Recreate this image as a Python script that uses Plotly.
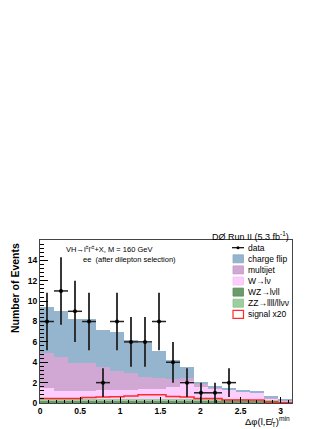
import math
import plotly.graph_objects as go

# 18 bins over [0, pi]
n_bins = 18
bin_w = math.pi / n_bins
edges = [i * bin_w for i in range(n_bins + 1)]
centers = [(i + 0.5) * bin_w for i in range(n_bins)]

# background components (events per bin), stacked bottom to top
wz = [0.25, 0.25, 0.25, 0.26, 0.26, 0.27, 0.27, 0.28, 0.28, 0.27, 0.27, 0.26, 0.25, 0.24, 0.23, 0.22, 0.20, 0.10]
zz = [0.15, 0.15, 0.15, 0.15, 0.15, 0.15, 0.15, 0.15, 0.15, 0.15, 0.15, 0.14, 0.13, 0.12, 0.12, 0.11, 0.10, 0.05]
w_lnu = [1.05, 0.80, 0.80, 0.79, 0.84, 0.88, 0.88, 0.92, 0.97, 1.18, 1.78, 1.20, 1.02, 0.94, 0.75, 0.67, 0.15, 0.05]
multijet = [3.45, 3.30, 2.70, 2.70, 2.25, 1.80, 1.60, 1.25, 1.05, 0.75, 0.30, 0.25, 0.10, 0.05, 0.05, 0.05, 0.05, 0.05]
charge_flip = [4.50, 4.50, 4.30, 4.30, 3.70, 3.90, 3.30, 3.25, 2.65, 1.85, 1.00, 0.25, 0.10, 0.05, 0.05, 0.05, 0.10, 0.05]
signal_x20 = [0.45, 0.45, 0.45, 0.55, 0.60, 0.62, 0.68, 0.80, 0.80, 0.65, 0.60, 0.45, 0.45, 0.30, 0.30, 0.30, 0.10, 0.05]
data = [8, 11, 9, 8, 2, 8, 6, 6, 8, 4, 2, 1, 1, 2, 0, 0, 0, 0]

x_ticks = [0, 0.5, 1, 1.5, 2, 2.5, 3]
x_labels = ["0", "0.5", "1", "1.5", "2", "2.5", "3"]
y_ticks = [0, 2, 4, 6, 8, 10, 12, 14]

col_cf = "#95b5ce"
col_mj = "#d1a8d3"
col_w = "#fdcdfd"
col_wz = "#6b9a6b"
col_zz = "#9dce9d"
col_sig = "#ff2a2a"
col_data = "#222222"

fig = go.Figure()

# stacked backgrounds
for vals, col in [(wz, col_wz), (zz, col_zz), (w_lnu, col_w), (multijet, col_mj), (charge_flip, col_cf)]:
    fig.add_trace(go.Bar(
        x=centers, y=vals, width=bin_w,
        marker=dict(color=col, line=dict(width=0)),
        showlegend=False, hoverinfo="skip"
    ))

# signal x20 as a step line
fig.add_trace(go.Scatter(
    x=edges, y=signal_x20 + [signal_x20[-1]],
    mode="lines", line=dict(color=col_sig, width=1.5, shape="hv"),
    showlegend=False
))

# data points with sqrt(N) errors, empty bins not drawn
d_x = [c for c, n in zip(centers, data) if n > 0]
d_y = [n for n in data if n > 0]
d_err = [math.sqrt(n) for n in d_y]
fig.add_trace(go.Scatter(
    x=d_x, y=d_y, mode="markers",
    marker=dict(color="black", size=4),
    error_y=dict(type="data", array=d_err, color=col_data, thickness=1.8, width=0),
    error_x=dict(type="constant", value=bin_w / 2, color=col_data, thickness=1.5, width=0),
    showlegend=False
))

# plot area as seen on screen: x 40..292, y 240..403
# (the page body adds an 8px offset, the figure itself is 324x421)
def px(xp):
    return (xp - 40) / 252.0

def py(yp):
    return (403 - yp) / 163.0

# hand-made legend in the ROOT style
shapes = []
annotations = []
rows = [
    ("data", None, None),
    ("charge flip", col_cf, "#86a8c2"),
    ("multijet", col_mj, "#c497c6"),
    ("W\u2192l\u03bd", col_w, "#f4bff4"),
    ("WZ\u2192l\u03bdll", col_wz, "#5c8a5c"),
    ("ZZ\u2192llll/ll\u03bd\u03bd", col_zz, "#8cc08c"),
    ("signal x20", "white", col_sig),
]
for i, (label, fill, edge) in enumerate(rows):
    yc = 247.7 + i * 11.1
    if fill is None:
        shapes.append(dict(type="line", xref="paper", yref="paper",
                           x0=px(232), x1=px(244), y0=py(yc), y1=py(yc),
                           line=dict(color="black", width=1.2)))
        shapes.append(dict(type="circle", xref="paper", yref="paper",
                           x0=px(236.5), x1=px(239.5), y0=py(yc + 1.5), y1=py(yc - 1.5),
                           fillcolor="black", line=dict(color="black", width=0)))
    else:
        shapes.append(dict(type="rect", xref="paper", yref="paper",
                           x0=px(233), x1=px(243.5), y0=py(yc + 4), y1=py(yc - 4),
                           fillcolor=fill, line=dict(color=edge, width=1.2 if fill == "white" else 0.8)))
    annotations.append(dict(text=label, xref="paper", yref="paper",
                            x=px(245.5), y=py(yc), xanchor="left", yanchor="middle",
                            showarrow=False, font=dict(size=8.5, color="black")))

annotations += [
    dict(text="D\u00d8 Run II (5.3 fb<sup>-1</sup>)", xref="paper", yref="paper",
         x=px(291), y=py(236.5), xanchor="right", yanchor="middle", showarrow=False,
         font=dict(size=9, color="black")),
    dict(text="VH\u2192l<sup>\u00b1</sup>l'<sup>\u00b1</sup>+X, M = 160 GeV", xref="paper", yref="paper",
         x=px(64), y=py(249), xanchor="left", yanchor="middle", showarrow=False,
         font=dict(size=7.5, color="black")),
    dict(text="ee  (after dilepton selection)", xref="paper", yref="paper",
         x=px(81), y=py(259), xanchor="left", yanchor="middle", showarrow=False,
         font=dict(size=7.5, color="black")),
    dict(text="Number of Events", xref="paper", yref="paper",
         x=px(15), y=py(241), xanchor="center", yanchor="top", textangle=-90,
         showarrow=False, font=dict(size=10.5, color="black", weight="bold")),
    dict(text="\u0394\u03c6(l,E\u0338<sub>T</sub>)<sup>min</sup>", xref="paper", yref="paper",
         x=px(292), y=py(421.5), xanchor="right", yanchor="middle", showarrow=False,
         font=dict(size=9.5, color="black")),
]

fig.update_layout(
    width=324, height=421,
    margin=dict(l=32, r=40, t=232, b=26),
    paper_bgcolor="white", plot_bgcolor="white",
    barmode="stack", bargap=0,
    font=dict(family="Liberation Sans, Arial, sans-serif", color="black"),
    shapes=shapes, annotations=annotations,
    showlegend=False,
)
fig.update_xaxes(
    range=[0, math.pi], showgrid=False, zeroline=False,
    showline=True, linecolor="#444", linewidth=1, mirror=True,
    ticks="inside", ticklen=6, tickcolor="black",
    tickvals=x_ticks, ticktext=x_labels,
    tickfont=dict(size=8.5, weight="bold"),
    minor=dict(dtick=0.1, ticks="inside", ticklen=3, tickcolor="black"),
)
fig.update_yaxes(
    range=[0, 16], showgrid=False, zeroline=False,
    showline=True, linecolor="#444", linewidth=1, mirror=True,
    ticks="inside", ticklen=8, tickcolor="black",
    tickvals=y_ticks, tickfont=dict(size=8.5, weight="bold"),
    minor=dict(dtick=0.4, ticks="inside", ticklen=4, tickcolor="black"),
)

fig.write_html("out.html")
